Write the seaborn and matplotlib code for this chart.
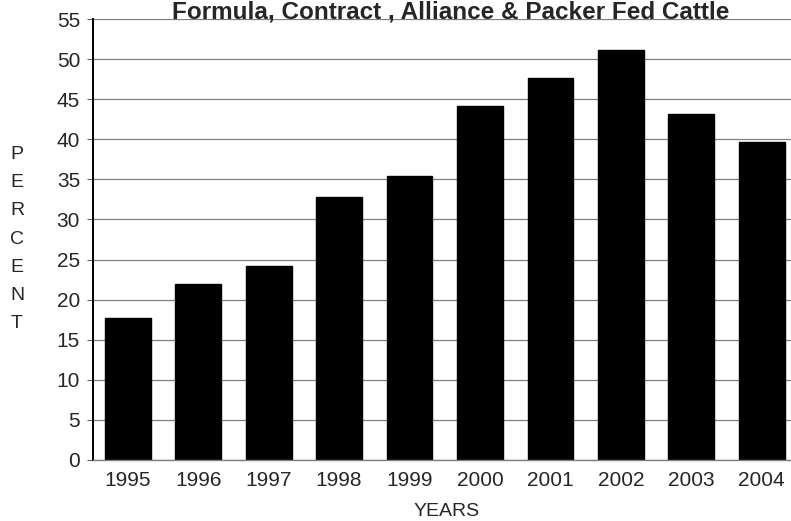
import matplotlib
matplotlib.use("Agg")
import matplotlib.pyplot as plt
import seaborn as sns
import pandas as pd

years = ["1995", "1996", "1997", "1998", "1999", "2000", "2001", "2002", "2003", "2004"]
percent = [17.7, 22.0, 24.2, 32.8, 35.4, 44.2, 47.6, 51.1, 43.2, 39.6]
y_ticks = [0, 5, 10, 15, 20, 25, 30, 35, 40, 45, 50, 55]

title = "Formula, Contract , Alliance & Packer Fed Cattle"
x_label = "YEARS"
y_label = "PERCENT"

sns.set_style("white")
plt.rcParams["font.family"] = ["Liberation Sans", "DejaVu Sans"]

df = pd.DataFrame({"year": years, "percent": percent})

fig = plt.figure(figsize=(7.91, 5.21), dpi=100)
ax = fig.add_axes([0.117, 0.1171, 0.8906, 0.8464])

sns.barplot(data=df, x="year", y="percent", order=years, color="black",
            edgecolor="black", width=0.65, saturation=1, ax=ax)

ax.set_ylim(0, 55)
ax.set_xlim(-0.5, len(years) - 0.5)
ax.set_yticks(y_ticks)
ax.set_yticklabels([str(t) for t in y_ticks], fontsize=15)
ax.set_xticks(range(len(years)))
ax.set_xticklabels(years, fontsize=15)

# horizontal grid behind the bars
ax.set_axisbelow(True)
ax.yaxis.grid(True, color="#808080", linewidth=0.9)
ax.xaxis.grid(False)

for side in ("top", "right"):
    ax.spines[side].set_visible(False)
ax.spines["left"].set_color("black")
ax.spines["left"].set_linewidth(1.4)
ax.spines["bottom"].set_color("#808080")
ax.spines["bottom"].set_linewidth(1.0)

ax.tick_params(axis="y", length=4, width=0.8, color="#606060", pad=5, direction="out", left=True)
ax.tick_params(axis="x", length=0, pad=8)

ax.set_xlabel("")
ax.set_ylabel("")

fig.text(446.5 / 791, 1 - 512 / 521, x_label, ha="center", va="center", fontsize=14)
fig.text(17 / 791, 1 - 239 / 521, "\n".join(y_label), ha="center", va="center",
         fontsize=14, linespacing=1.87)
fig.text(451 / 791, 1 - 19 / 521, title, ha="center", va="baseline",
         fontsize=17.5, fontweight="bold")

fig.savefig("out.png", dpi=100)
